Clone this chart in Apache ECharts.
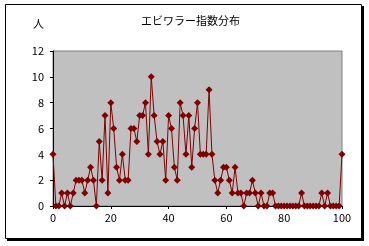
<!DOCTYPE html>
<html><head><meta charset="utf-8">
<script src="https://cdn.jsdelivr.net/npm/echarts@6/dist/echarts.min.js"></script>
<style>html,body{margin:0;padding:0;background:#fff;}#c{width:369px;height:246px;}</style>
</head><body><div id="c"></div>
<script>
const titleText = 'エビワラー指数分布';
const yAxisLabel = '人';
const xValues = [];
for (let i = 0; i <= 100; i++) xValues.push(i);
const counts = [
  4,0,0,1,0,1,0,1,2,2,
  2,1,2,3,2,0,5,2,7,1,
  8,6,3,2,4,2,2,6,6,5,
  7,7,8,4,10,7,5,4,5,2,
  7,6,3,2,8,7,4,7,3,6,
  8,4,4,4,9,4,2,1,2,3,
  3,2,1,3,1,1,0,1,1,2,
  1,0,1,0,0,1,1,0,0,0,
  0,0,0,0,0,0,1,0,0,0,
  0,0,0,1,0,1,0,0,0,0,
  4
];
const data = xValues.map((x, i) => [x, counts[i]]);
const chart = echarts.init(document.getElementById('c'), null, {renderer: 'canvas'});
const font = '"MS PGothic","Noto Sans CJK JP",sans-serif';
chart.setOption({
  animation: false,
  backgroundColor: '#fff',
  title: {text: titleText, left: 136, top: 10, textStyle: {fontSize: 11, fontWeight: 'normal', color: '#000', fontFamily: font}},
  graphic: [
    {type: 'rect', shape: {x: 7, y: 6, width: 357, height: 235}, style: {fill: '#000'}, z: -10},
    {type: 'rect', shape: {x: 5.5, y: 4.5, width: 356, height: 234}, style: {fill: '#fff', stroke: '#000', lineWidth: 1}, z: -9},
    {type: 'text', left: 33, top: 18, style: {text: yAxisLabel, fontSize: 11, fill: '#000', fontFamily: font}}
  ],
  grid: {left: 53, top: 51, width: 289, height: 155, show: true, backgroundColor: '#c0c0c0', borderColor: '#808080', borderWidth: 1},
  xAxis: {type: 'value', min: 0, max: 100, interval: 20,
    axisLine: {show: true, onZero: false, lineStyle: {color: '#000'}},
    axisTick: {show: true, length: 3, lineStyle: {color: '#000'}},
    axisLabel: {fontSize: 11, color: '#000', margin: 6, fontFamily: font},
    splitLine: {show: false}},
  yAxis: {type: 'value', min: 0, max: 12, interval: 2,
    axisLine: {show: true, lineStyle: {color: '#000'}},
    axisTick: {show: true, length: 3, lineStyle: {color: '#000'}},
    axisLabel: {fontSize: 11, color: '#000', margin: 9, fontFamily: font},
    splitLine: {show: false}},
  series: [{type: 'line', data: data, symbol: 'diamond', symbolSize: 7, showAllSymbol: true,
    lineStyle: {color: '#800000', width: 1}, itemStyle: {color: '#800000'}}]
});
</script></body></html>
